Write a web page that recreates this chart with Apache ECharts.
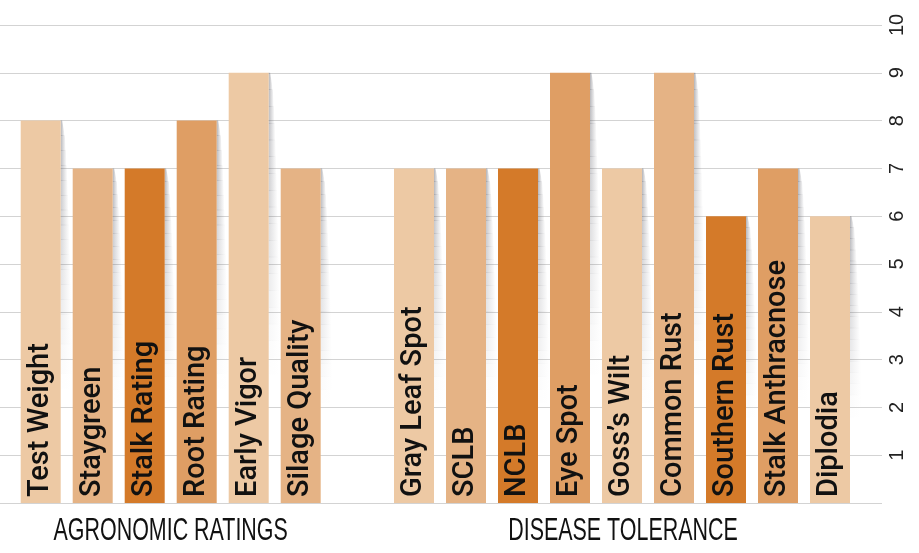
<!DOCTYPE html>
<html>
<head>
<meta charset="utf-8">
<script src="https://cdn.jsdelivr.net/npm/echarts@6/dist/echarts.min.js"></script>
<style>
html,body{margin:0;padding:0;background:#fff;}
#chart{width:919px;height:553px;}
</style>
</head>
<body>
<div id="chart"></div>
<script>
// ---- data ----
const agroCategories = ['Test Weight', 'Staygreen', 'Stalk Rating', 'Root Rating', 'Early Vigor', 'Silage Quality'];
const agroValues = [8, 7, 7, 8, 9, 7];
const diseaseCategories = ['Gray Leaf Spot', 'SCLB', 'NCLB', 'Eye Spot', 'Goss\u2019s Wilt', 'Common Rust', 'Southern Rust', 'Stalk Anthracnose', 'Diplodia'];
const diseaseValues = [7, 7, 7, 9, 7, 9, 6, 7, 6];
const yTickLabels = ['', '1', '2', '3', '4', '5', '6', '7', '8', '9', '10'];
const groupTitles = ['AGRONOMIC RATINGS', 'DISEASE TOLERANCE'];

// ---- styles ----
const palette = ['#EDC9A4', '#E5B385', '#D47A29', '#DF9E64'];
const FONT = "'Liberation Sans', Arial, sans-serif";
const LABEL_FONT = "Roboto, 'Liberation Sans', Arial, sans-serif";
const BAR_W = 40;
const TOP = 25, BOTTOM = 50;

const chart = echarts.init(document.getElementById('chart'), null, {renderer: 'canvas'});

function shadowRender(params, api) {
  const idx = api.value(0), v = api.value(1);
  const top = api.coord([idx, v]);
  const bot = api.coord([idx, 0]);
  const xr = top[0] + BAR_W / 2;
  const L = 0.7 * (bot[1] - top[1]);
  const N = 18;
  const children = [];
  for (let i = 0; i < N; i++) {
    const t0 = i / N, t1 = (i + 1) / N, tm = (t0 + t1) / 2;
    const y0 = top[1] + t0 * L, y1 = top[1] + t1 * L;
    const w0 = 1.5 + 11 * Math.sqrt(t0), w1 = 1.5 + 11 * Math.sqrt(t1);
    const a = 0.45 * Math.pow(1 - tm, 1.2);
    children.push({
      type: 'polygon',
      shape: {points: [[xr, y0], [xr + w0, y0], [xr + w1, y1 + 0.5], [xr, y1 + 0.5]]},
      style: {
        fill: new echarts.graphic.LinearGradient(0, 0, 1, 0, [
          {offset: 0, color: 'rgba(80,80,90,' + a + ')'},
          {offset: 1, color: 'rgba(80,80,90,0)'}
        ])
      },
      silent: true
    });
  }
  return {type: 'group', children: children};
}

function barSeries(cats, vals, axisIdx) {
  return {
    type: 'bar',
    xAxisIndex: axisIdx,
    yAxisIndex: axisIdx,
    barWidth: BAR_W,
    z: 3,
    data: vals.map((v, i) => ({value: v, itemStyle: {color: palette[i % palette.length]}})),
    label: {
      show: true,
      position: 'insideBottom',
      distance: 6,
      rotate: 90,
      align: 'left',
      verticalAlign: 'middle',
      formatter: '{b}',
      fontFamily: LABEL_FONT,
      fontWeight: 500,
      fontSize: 29,
      color: '#111'
    },
    animation: false
  };
}

function shadowSeries(vals, axisIdx) {
  return {
    type: 'custom',
    xAxisIndex: axisIdx,
    yAxisIndex: axisIdx,
    z: 1,
    renderItem: shadowRender,
    data: vals.map((v, i) => [i, v]),
    animation: false,
    silent: true
  };
}

const hiddenY = (i) => ({type: 'value', gridIndex: i, min: 0, max: 10, interval: 1, show: false, splitLine: {show: false}});

const option = {
  backgroundColor: '#ffffff',
  animation: false,
  grid: [
    {left: 0, right: 37, top: TOP, bottom: BOTTOM},
    {left: 14.7, width: 312, top: TOP, bottom: BOTTOM},
    {left: 388, width: 468, top: TOP, bottom: BOTTOM}
  ],
  xAxis: [
    {type: 'category', gridIndex: 0, data: [''], show: false},
    {type: 'category', gridIndex: 1, data: agroCategories, show: false},
    {type: 'category', gridIndex: 2, data: diseaseCategories, show: false}
  ],
  yAxis: [
    {
      type: 'value', gridIndex: 0, position: 'right', min: 0, max: 10, interval: 1,
      axisLine: {show: false}, axisTick: {show: false},
      splitLine: {show: true, lineStyle: {color: '#d3d3d3', width: 1}},
      axisLabel: {
        rotate: 90, margin: 5, fontFamily: FONT, fontSize: 20, color: '#222',
        formatter: (v) => yTickLabels[Math.round(v)]
      }
    },
    hiddenY(1),
    hiddenY(2)
  ],
  series: [
    shadowSeries(agroValues, 1),
    shadowSeries(diseaseValues, 2),
    barSeries(agroCategories, agroValues, 1),
    barSeries(diseaseCategories, diseaseValues, 2)
  ],
  graphic: [
    {type: 'text', x: 170.7, y: 531.5, scaleX: 0.67,
     style: {text: groupTitles[0], fontFamily: FONT, fontSize: 32, fill: '#111', align: 'center', verticalAlign: 'middle'}},
    {type: 'text', x: 623, y: 531.5, scaleX: 0.67,
     style: {text: groupTitles[1], fontFamily: FONT, fontSize: 32, fill: '#111', align: 'center', verticalAlign: 'middle'}}
  ]
};
chart.setOption(option);
</script>
</body>
</html>
